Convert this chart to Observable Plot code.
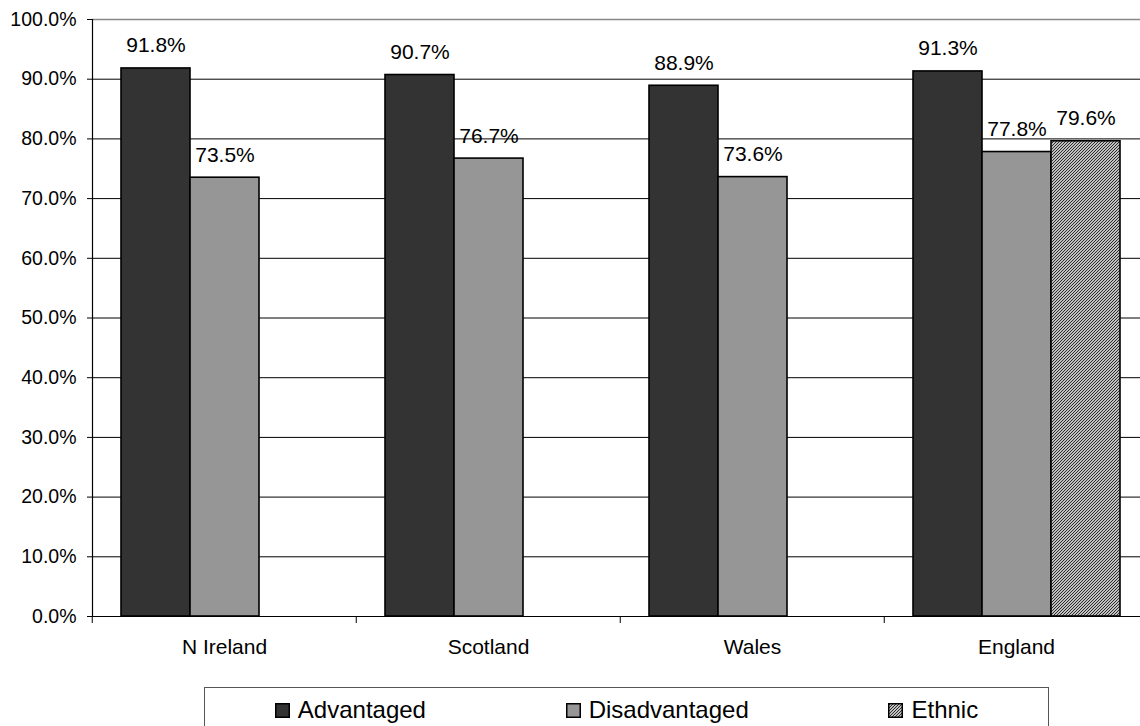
<!DOCTYPE html>
<html>
<head>
<meta charset="utf-8">
<script src="https://cdn.jsdelivr.net/npm/d3@7"></script>
<script src="https://cdn.jsdelivr.net/npm/@observablehq/plot@0.6"></script>
<style>
  html, body { margin: 0; padding: 0; background: #fff; overflow: hidden; }
  #wrap { position: relative; width: 1140px; height: 726px; }
  #wrap svg.chart { max-width: none !important; }
  #legend {
    position: absolute; left: 204px; top: 687px; width: 845px; height: 60px;
    border: 1px solid #555; box-sizing: border-box;
    display: flex; justify-content: space-around; align-items: flex-start;
    padding-top: 8px;
    font-family: "Liberation Sans", Arial, sans-serif; font-size: 24px; line-height: 28px; color: #000;
  }
  #legend .item { white-space: nowrap; }
  #legend svg { vertical-align: baseline; margin-right: 8px; }
</style>
</head>
<body>
<div id="wrap"></div>
<script>
const categories = ["N Ireland", "Scotland", "Wales", "England"];
const series = ["Advantaged", "Disadvantaged", "Ethnic"];
const advantaged = [0.918, 0.907, 0.889, 0.913];
const disadvantaged = [0.735, 0.767, 0.736, 0.778];
const ethnic = [null, null, null, 0.796];
const yTicks = [0, 0.1, 0.2, 0.3, 0.4, 0.5, 0.6, 0.7, 0.8, 0.9, 1.0];
const gridTicks = [0.1, 0.2, 0.3, 0.4, 0.5, 0.6, 0.7, 0.8, 0.9];
const colors = ["#333333", "#969696", "url(#hatch)"];

const values = [advantaged, disadvantaged, ethnic];
const data = [];
categories.forEach((c, i) => {
  series.forEach((s, j) => {
    const v = values[j][i];
    if (v != null) data.push({category: c, series: s, value: v});
  });
});

const width = 1140, height = 680, marginLeft = 91, marginRight = -9, marginTop = 19, marginBottom = 64;
const halfStep = (width - marginLeft - marginRight) / categories.length / 2;
const fmt = d3.format(".1%");

const defs = () => {
  const svg = d3.create("svg:defs");
  const p = svg.append("pattern").attr("id", "hatch").attr("patternUnits", "userSpaceOnUse")
    .attr("width", 3).attr("height", 3);
  p.append("rect").attr("width", 3).attr("height", 3).attr("fill", "#ffffff");
  p.append("path").attr("d", "M-1,1 l2,-2 M0,3 l3,-3 M2,4 l2,-2")
    .attr("stroke", "#222").attr("stroke-width", 1.1);
  return svg.node();
};

const chart = Plot.plot({
  width, height, marginLeft, marginRight, marginTop, marginBottom,
  className: "chart",
  style: {fontFamily: "Liberation Sans, Arial, sans-serif", background: "#fff", color: "#000", overflow: "visible"},
  fx: {domain: categories, padding: 0},
  x: {domain: series, paddingInner: 0, paddingOuter: 0.393, axis: null},
  y: {domain: [0, 1], axis: null},
  color: {domain: series, range: colors},
  marks: [
    defs,
    Plot.ruleY(gridTicks, {stroke: "#000", strokeWidth: 1}),
    Plot.ruleY([1], {stroke: "#888", strokeWidth: 1.5}),
    Plot.barY(data, {fx: "category", x: "series", y: "value", fill: "series", stroke: "#000", strokeWidth: 1.6}),
    Plot.ruleY([0], {stroke: "#000", strokeWidth: 1.2}),
    Plot.frame({anchor: "left", facetAnchor: "left", stroke: "#000", strokeWidth: 1.2}),
    Plot.text(data, {fx: "category", x: "series", y: "value", text: d => fmt(d.value), dy: -16, lineAnchor: "bottom", fontSize: 21, fill: "#000"}),
    Plot.axisY({ticks: yTicks, tickFormat: ".1%", tickSize: 5, tickPadding: 11, fontSize: 19.5, label: null, stroke: "#000", fill: "#000"}),
    Plot.axisFx({anchor: "bottom", tickSize: 7, tickFormat: () => "", dx: -halfStep, label: null, stroke: "#000"}),
    Plot.axisFx({anchor: "bottom", tickSize: 0, tickPadding: 23, fontSize: 21, label: null, fill: "#000"})
  ]
});
document.getElementById("wrap").appendChild(chart);

const legend = document.createElement("div");
legend.id = "legend";
series.forEach((s, j) => {
  const item = document.createElement("span");
  item.className = "item";
  item.innerHTML = `<svg width="15" height="15" viewBox="0 0 15 15">
    <defs><pattern id="lh${j}" patternUnits="userSpaceOnUse" width="3" height="3">
      <rect width="3" height="3" fill="#fff"/><path d="M-1,1 l2,-2 M0,3 l3,-3 M2,4 l2,-2" stroke="#222" stroke-width="1.1"/></pattern></defs>
    <rect x="0.75" y="0.75" width="13.5" height="13.5" fill="${j === 2 ? `url(#lh${j})` : colors[j]}" stroke="#000" stroke-width="1.5"/></svg>${s}`;
  legend.appendChild(item);
});
document.getElementById("wrap").appendChild(legend);
</script>
</body>
</html>
